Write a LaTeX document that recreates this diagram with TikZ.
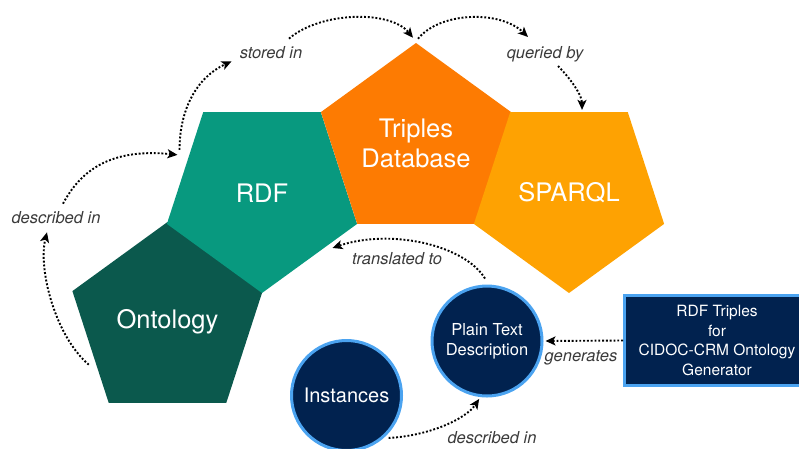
\documentclass[tikz,border=0pt]{standalone}
\usepackage{fontspec}
\setmainfont{TeX Gyre Heros}
\usepackage{tikz}
\usetikzlibrary{shapes.geometric,arrows.meta}

\definecolor{ontogreen}{HTML}{0B594D}
\definecolor{rdfteal}{HTML}{08997F}
\definecolor{dborange}{HTML}{FD7B02}
\definecolor{sparqlorange}{HTML}{FEA202}
\definecolor{navy}{HTML}{01224F}
\definecolor{lightblue}{HTML}{4BA3F0}
\definecolor{labelgray}{HTML}{3A3A3A}

\begin{document}
\begin{tikzpicture}[x=1pt,y=-1pt,
    penta/.style={regular polygon, regular polygon sides=5, minimum size=200pt, inner sep=0pt,
        text=white, align=center, font=\fontsize{25.5}{30}\selectfont},
    pentadown/.style={penta, regular polygon rotate=180},
    bubble/.style={circle, fill=navy, draw=lightblue, line width=3pt, minimum size=110pt,
        inner sep=0pt, text=white, align=center},
    flow/.style={line width=1.9pt, dash pattern=on 1.9pt off 1.9pt,
        -{Stealth[length=10pt,width=9pt,inset=2.5pt]}},
    rel/.style={font=\fontsize{16.5}{19}\selectfont\itshape, text=labelgray, inner sep=2pt}]
\path[use as bounding box, clip] (0,0) rectangle (799,448);
% Pentagon chain
\node[penta, fill=ontogreen] (onto) at (167.5,322) {Ontology};
\node[pentadown, fill=rdfteal] (rdf) at (262,193) {RDF};
\node[penta, fill=dborange] (tdb) at (416,143) {Triples\\Database};
\node[pentadown, fill=sparqlorange] (spq) at (569,193) {SPARQL};
% Text sources
\node[bubble, font=\fontsize{16.5}{20}\selectfont] (ptd) at (487,341) {Plain Text\\Description};
\node[bubble, font=\fontsize{20}{24}\selectfont] (inst) at (346.5,395.5) {Instances};
\node[draw=lightblue, fill=navy, line width=3pt, minimum width=185pt, minimum height=90pt,
    text=white, align=center, font=\fontsize{15.5}{19.5}\selectfont] (gbox) at (717,340.5)
    {RDF Triples\\for\\CIDOC-CRM Ontology\\Generator};
% Relation labels
\node[rel] (dl1) at (56,218) {described in};
\node[rel] (st) at (271,53) {stored in};
\node[rel] (qb) at (545,54) {queried by};
\node[rel] (tt) at (397,259) {translated to};
\node[rel] (gen) at (581,358) {generates};
\node[rel] (dl2) at (492,438) {described in};
% Dotted connectors
\draw[flow] ([xshift=-6pt,yshift=-4pt]onto.208) .. controls +(-34,-29) and +(-9,36) .. ([xshift=-9pt,yshift=-6pt]dl1.south);
\draw[flow] ([xshift=7pt,yshift=6pt]dl1.north) .. controls +(17,-32) and +(-68,-7) .. ([xshift=-10pt,yshift=5pt]rdf.156);
\draw[flow] ([xshift=-8pt,yshift=10pt]rdf.156) .. controls +(0,-40) and +(-35,16) .. ([xshift=-6pt]st.south west);
\draw[flow] ([xshift=18pt,yshift=6pt]st.north) .. controls +(31,-27) and +(-23,-28) .. ([xshift=-3pt,yshift=5pt]tdb.north);
\draw[flow] ([xshift=2pt,yshift=4pt]tdb.north) .. controls +(22,-27) and +(-28,-27) .. ([xshift=-17pt,yshift=7pt]qb.north);
\draw[flow] ([xshift=13pt,yshift=-2pt]qb.south) .. controls +(12,12) and +(0,-15) .. ([xshift=13pt,yshift=2pt]spq.north);
\draw[flow] ([xshift=-2pt,yshift=6pt]ptd.north) .. controls +(-20,-33) and +(59,-20) .. ([xshift=4pt,yshift=-3pt]rdf.-38);
\draw[flow, shorten >=2pt] (gbox.west) -- (ptd.east);
\draw[flow, shorten <=5pt] (inst.-49) .. controls +(43,-2) and +(-14,21) .. ([yshift=-2pt]ptd.-98);
\end{tikzpicture}
\end{document}
